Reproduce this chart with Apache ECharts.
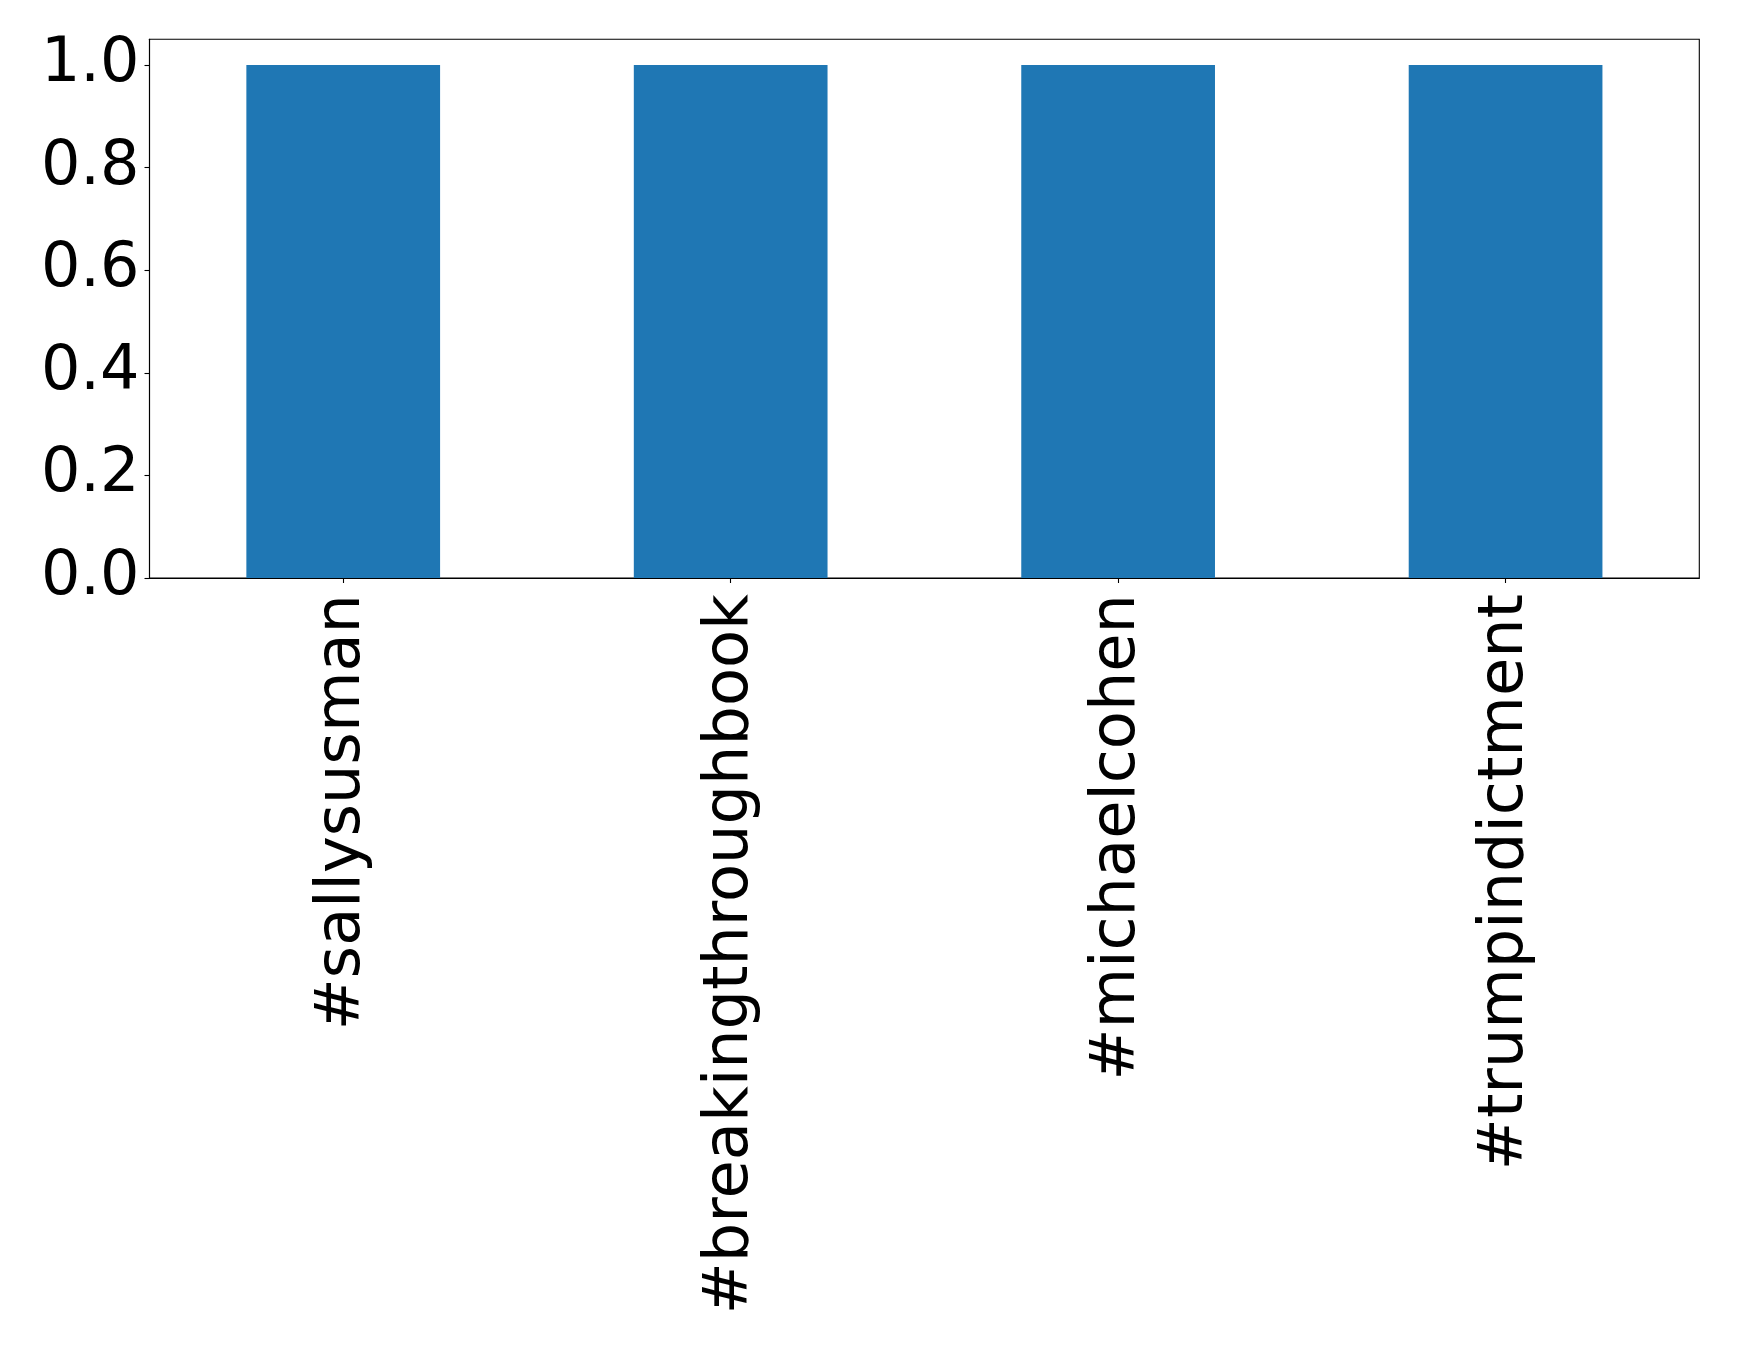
<!DOCTYPE html>
<html>
<head>
<meta charset="utf-8">
<script src="https://cdn.jsdelivr.net/npm/echarts@6/dist/echarts.min.js"></script>
<style>
html,body{margin:0;padding:0;background:#fff;}
#c{width:1739px;height:1351px;}
</style>
</head>
<body>
<div id="c"></div>
<script>
const categories = ['#sallysusman', '#breakingthroughbook', '#michaelcohen', '#trumpindictment'];
const values = [1, 1, 1, 1];
const yTicks = [0, 0.2, 0.4, 0.6, 0.8, 1.0];

const chart = echarts.init(document.getElementById('c'), null, {renderer: 'canvas'});
const font = 'DejaVu Sans';
chart.setOption({
  animation: false,
  backgroundColor: '#ffffff',
  grid: {
    left: 149.5, right: 39.7, top: 39.3, bottom: 773,
    show: true, borderColor: '#000', borderWidth: 1.1, backgroundColor: 'transparent'
  },
  xAxis: {
    type: 'category',
    data: categories,
    boundaryGap: true,
    axisLine: {show: true, lineStyle: {color: '#000', width: 1.1}},
    axisTick: {show: true, alignWithLabel: true, length: 5, lineStyle: {color: '#000', width: 1.1}},
    axisLabel: {rotate: 90, fontFamily: font, fontSize: 62.2, color: '#000', margin: 16, interval: 0,
      padding: [10, 0, 0, 0]}
  },
  yAxis: {
    type: 'value',
    min: 0, max: 1.05,
    splitLine: {show: false},
    axisLine: {show: true, lineStyle: {color: '#000', width: 1.1}},
    axisTick: {show: true, length: 5, customValues: yTicks, lineStyle: {color: '#000', width: 1.1}},
    axisLabel: {
      customValues: yTicks,
      fontFamily: font, fontSize: 62, color: '#000', margin: 10,
      formatter: v => v.toFixed(1)
    }
  },
  series: [{
    type: 'bar',
    data: values,
    barWidth: '50%',
    itemStyle: {color: '#1f77b4'}
  }]
});
</script>
</body>
</html>
